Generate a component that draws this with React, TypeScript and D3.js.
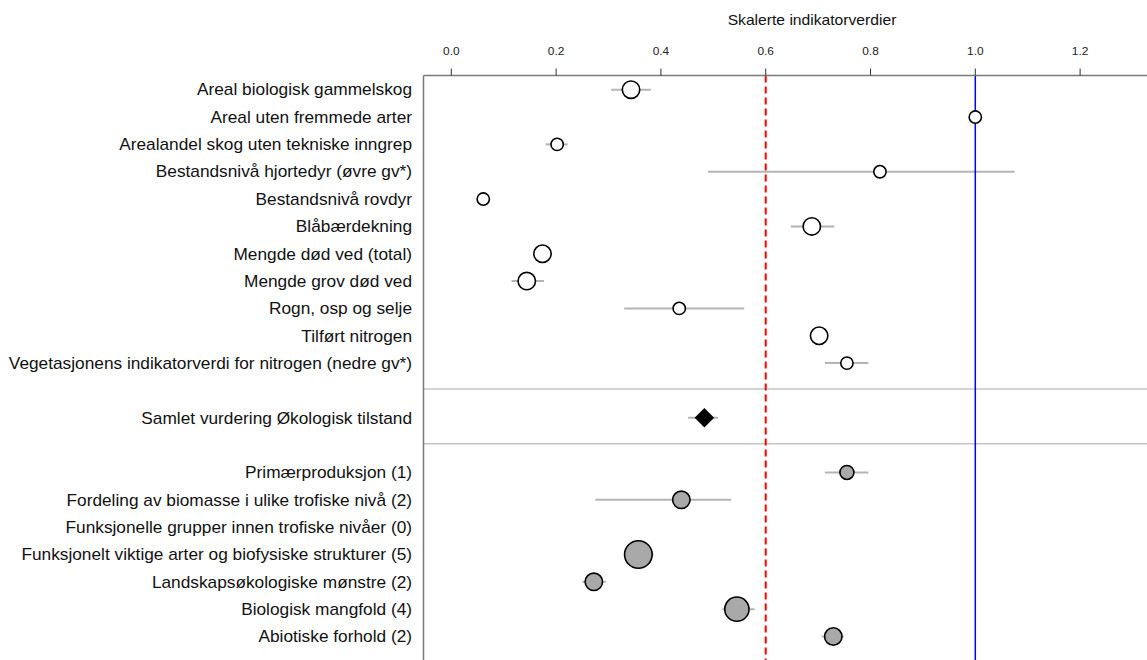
import React from 'react';
import * as d3 from 'd3';

const labels = [
  'Areal biologisk gammelskog',
  'Areal uten fremmede arter',
  'Arealandel skog uten tekniske inngrep',
  'Bestandsnivå hjortedyr (øvre gv*)',
  'Bestandsnivå rovdyr',
  'Blåbærdekning',
  'Mengde død ved (total)',
  'Mengde grov død ved',
  'Rogn, osp og selje',
  'Tilført nitrogen',
  'Vegetasjonens indikatorverdi for nitrogen (nedre gv*)',
  'Samlet vurdering Økologisk tilstand',
  'Primærproduksjon (1)',
  'Fordeling av biomasse i ulike trofiske nivå (2)',
  'Funksjonelle grupper innen trofiske nivåer (0)',
  'Funksjonelt viktige arter og biofysiske strukturer (5)',
  'Landskapsøkologiske mønstre (2)',
  'Biologisk mangfold (4)',
  'Abiotiske forhold (2)',
];
const rowIndex = [0, 1, 2, 3, 4, 5, 6, 7, 8, 9, 10, 12, 14, 15, 16, 17, 18, 19, 20];
const kind = ['ind', 'ind', 'ind', 'ind', 'ind', 'ind', 'ind', 'ind', 'ind', 'ind', 'ind', 'total', 'fun', 'fun', 'fun', 'fun', 'fun', 'fun', 'fun'];
const values: (number | null)[] = [0.343, 1.0, 0.202, 0.818, 0.061, 0.688, 0.174, 0.144, 0.435, 0.702, 0.755, 0.483, 0.755, 0.439, null, 0.357, 0.272, 0.545, 0.729];
const lower: (number | null)[] = [0.305, null, 0.18, 0.49, null, 0.648, null, 0.115, 0.33, null, 0.713, 0.452, 0.713, 0.275, null, 0.33, 0.25, 0.517, 0.707];
const upper: (number | null)[] = [0.381, null, 0.222, 1.075, null, 0.731, null, 0.177, 0.559, null, 0.796, 0.509, 0.796, 0.534, null, 0.386, 0.295, 0.579, 0.749];
const weights = [2, 0.5, 0.5, 0.5, 0.5, 2, 2, 2, 0.5, 2, 0.5, 0, 1, 2, 0, 5, 2, 4, 2];
const separatorRows = [11, 13];
const xTicks = [0, 0.2, 0.4, 0.6, 0.8, 1.0, 1.2];
const thresholdValue = 0.6;
const referenceValue = 1.0;
const axisTitle = 'Skalerte indikatorverdier';

const W = 1147;
const H = 660;
const plotLeft = 423.5;
const axisY = 75.5;
const stretch = 1.08;

export default function App() {
  const x = d3.scaleLinear().domain([0, 1]).range([451.3, 975.3]);
  const y = d3.scaleLinear().domain([0, 20]).range([89.7, 636.5]);
  const r = d3.scaleLinear().domain([0, 5]).range([5.3, 13.8]);
  const font = 'Liberation Sans, Arial, sans-serif';
  const diamond = d3.symbol().type(d3.symbolDiamond2).size(242);
  const tx = (px: number, py: number) => `translate(${px},${py}) scale(${stretch},1)`;

  return (
    <div style={{ position: 'fixed', left: 0, top: 0 }}>
      <svg width={W} height={H} style={{ display: 'block', background: '#fff' }} fontFamily={font}>
        {separatorRows.map((s) => (
          <line key={'s' + s} x1={plotLeft} x2={W} y1={y(s - 0.05)} y2={y(s - 0.05)} stroke="#c4c4c4" strokeWidth={1.5} />
        ))}
        {values.map((v, i) =>
          v != null && lower[i] != null && upper[i] != null ? (
            <line key={'e' + i} x1={x(lower[i] as number)} x2={x(upper[i] as number)} y1={y(rowIndex[i])} y2={y(rowIndex[i])}
              stroke="#b4b4b4" strokeWidth={2} />
          ) : null
        )}
        <line x1={x(thresholdValue)} x2={x(thresholdValue)} y1={axisY} y2={H} stroke="#ff0000" strokeWidth={2} strokeDasharray="7,4" />
        <line x1={x(referenceValue)} x2={x(referenceValue)} y1={axisY} y2={H} stroke="#0000ff" strokeWidth={1.5} />
        <line x1={plotLeft} x2={plotLeft} y1={axisY} y2={H} stroke="#7a7a7a" strokeWidth={1.5} />
        <line x1={plotLeft} x2={W} y1={axisY} y2={axisY} stroke="#7a7a7a" strokeWidth={1.5} />
        {xTicks.map((t) => (
          <g key={'t' + t}>
            <line x1={x(t)} x2={x(t)} y1={axisY} y2={axisY - 7} stroke="#333" strokeWidth={1} />
            <text transform={tx(x(t), 55)} textAnchor="middle" fontSize={11} fill="#222">{t.toFixed(1)}</text>
          </g>
        ))}
        <text transform={tx(812, 25)} textAnchor="middle" fontSize={14.5} fill="#111">{axisTitle}</text>
        {labels.map((l, i) => (
          <text key={'l' + i} transform={tx(412, y(rowIndex[i]))} dy="0.36em" textAnchor="end" fontSize={16} fill="#111">{l}</text>
        ))}
        {values.map((v, i) => {
          if (v == null) return null;
          const cx = x(v);
          const cy = y(rowIndex[i]);
          if (kind[i] === 'total') {
            return <path key={'p' + i} d={diamond() as string} transform={`translate(${cx},${cy})`} fill="#000" />;
          }
          return (
            <circle key={'p' + i} cx={cx} cy={cy} r={r(weights[i])}
              fill={kind[i] === 'fun' ? '#a9a9a9' : '#fff'} stroke="#000" strokeWidth={1.6} />
          );
        })}
      </svg>
    </div>
  );
}
